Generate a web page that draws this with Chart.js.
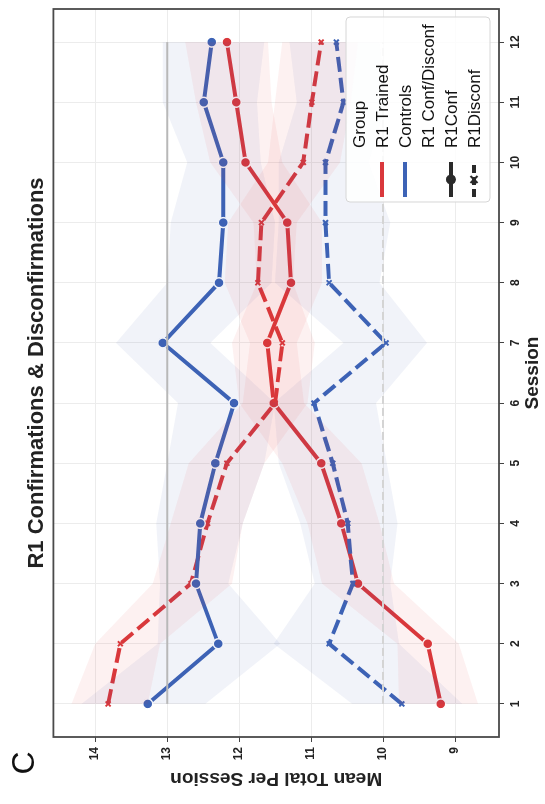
<!DOCTYPE html>
<html>
<head>
<meta charset="utf-8">
<script src="https://cdn.jsdelivr.net/npm/chart.js@4.4.0/dist/chart.umd.min.js"></script>
<style>
  html, body { margin: 0; padding: 0; background: #fff; overflow: hidden; }
  /* the figure is drawn landscape and turned a quarter turn, like the original */
  #wrap { position: absolute; left: 0; top: 0; width: 804px; height: 545px;
          transform-origin: 0 0; transform: translate(0, 804px) rotate(-90deg); }
</style>
</head>
<body>
<div id="wrap"><canvas id="myChart" width="804" height="545"></canvas></div>
<script>
const sessions = [1, 2, 3, 4, 5, 6, 7, 8, 9, 10, 11, 12];
const valueTicks = [9, 10, 11, 12, 13, 14];

const trainedConf   = [9.20, 9.38, 10.35, 10.58, 10.86, 11.52, 11.61, 11.28, 11.33, 11.91, 12.04, 12.17];
const trainedConfLo = [8.68, 8.95, 9.85, 10.05, 10.30, 11.10, 11.20, 10.85, 10.85, 11.40, 11.55, 11.60];
const trainedConfHi = [9.78, 9.80, 10.85, 11.05, 11.40, 12.00, 12.10, 11.75, 11.80, 12.40, 12.60, 12.75];

const trainedDisconf   = [13.82, 13.65, 12.67, 12.44, 12.17, 11.50, 11.40, 11.74, 11.69, 11.11, 10.99, 10.86];
const trainedDisconfLo = [13.27, 13.10, 12.10, 11.95, 11.65, 11.05, 10.95, 11.25, 11.20, 10.60, 10.45, 10.35];
const trainedDisconfHi = [14.33, 14.00, 13.20, 12.95, 12.70, 11.95, 11.85, 12.20, 12.15, 11.60, 11.50, 11.40];

const controlsConf   = [13.27, 12.29, 12.60, 12.54, 12.33, 12.07, 13.06, 12.28, 12.22, 12.22, 12.49, 12.38];
const controlsConfLo = [12.47, 11.43, 12.15, 11.95, 11.65, 11.50, 12.40, 11.55, 11.50, 11.70, 11.75, 11.65];
const controlsConfHi = [14.19, 13.13, 13.10, 13.15, 13.00, 12.85, 13.71, 13.00, 12.95, 12.72, 13.06, 13.06];

const controlsDisconf   = [9.74, 10.75, 10.42, 10.49, 10.70, 10.96, 9.96, 10.75, 10.80, 10.80, 10.55, 10.65];
const controlsDisconfLo = [8.90, 9.78, 9.90, 9.80, 9.95, 10.10, 9.39, 10.05, 9.90, 10.20, 9.95, 10.05];
const controlsDisconfHi = [10.43, 11.52, 10.95, 11.15, 11.45, 11.52, 10.55, 11.50, 11.45, 11.45, 11.20, 11.30];

const refHigh = 13;
const refLow = 10;

const RED = "#d9383c";
const BLUE = "#3d63b6";
const RED_BAND = "rgba(220, 60, 60, 0.07)";
const BLUE_BAND = "rgba(70, 90, 170, 0.075)";
const FONT = "'Liberation Sans', Arial, sans-serif";

const pts = (arr) => sessions.map((s, i) => ({ x: s, y: arr[i] }));

const band = (hi, lo, color) => [
  { data: pts(hi), fill: "+1", backgroundColor: color, borderWidth: 0, pointRadius: 0 },
  { data: pts(lo), fill: false, borderWidth: 0, pointRadius: 0 },
];

const meanLine = (arr, color, dashed) => ({
  data: pts(arr),
  borderColor: color,
  borderWidth: 4,
  borderDash: dashed ? [15, 6] : [],
  fill: false,
  pointStyle: dashed ? "crossRot" : "circle",
  pointRadius: dashed ? 3.5 : 5,
  pointBackgroundColor: color,
  pointBorderColor: dashed ? color : "#fff",
  pointBorderWidth: dashed ? 2 : 1.5,
});

const refLine = (v, color, dash) => ({
  data: [{ x: sessions[0], y: v }, { x: sessions[sessions.length - 1], y: v }],
  borderColor: color,
  borderWidth: 2,
  borderDash: dash,
  pointRadius: 0,
  fill: false,
});

// frame, panel letter and the seaborn-style legend
const extras = {
  id: "extras",
  afterDraw(chart) {
    const { ctx, chartArea: a } = chart;
    ctx.save();
    ctx.strokeStyle = "#4a4a4a";
    ctx.lineWidth = 1.8;
    ctx.strokeRect(a.left, a.top, a.right - a.left, a.bottom - a.top);

    ctx.fillStyle = "#111";
    ctx.font = "32px " + FONT;
    ctx.textAlign = "center";
    ctx.textBaseline = "middle";
    ctx.fillText("C", 41, 25);

    const w = 185, h = 144;
    const bx = a.right - 8 - w, by = a.bottom - 9 - h;
    ctx.fillStyle = "rgba(255,255,255,0.85)";
    ctx.strokeStyle = "#d6d6d6";
    ctx.lineWidth = 1;
    ctx.beginPath();
    ctx.roundRect(bx, by, w, h, 4);
    ctx.fill();
    ctx.stroke();

    const rows = [
      { text: "Group" },
      { text: "R1 Trained", color: RED },
      { text: "Controls", color: BLUE },
      { text: "R1 Conf/Disconf" },
      { text: "R1Conf", color: "#2a2a2a", marker: "circle" },
      { text: "R1Disconf", color: "#2a2a2a", marker: "x" },
    ];
    ctx.font = "17px " + FONT;
    ctx.textAlign = "left";
    rows.forEach((r, i) => {
      const y = by + 13 + i * 23;
      const x0 = bx + 5, x1 = bx + 40;
      if (r.color) {
        ctx.strokeStyle = r.color;
        ctx.lineWidth = 4;
        ctx.setLineDash(r.marker === "x" ? [8, 4] : []);
        ctx.beginPath();
        ctx.moveTo(x0, y);
        ctx.lineTo(x1, y);
        ctx.stroke();
        ctx.setLineDash([]);
        const cx = (x0 + x1) / 2;
        if (r.marker === "circle") {
          ctx.fillStyle = r.color;
          ctx.beginPath();
          ctx.arc(cx, y, 5, 0, Math.PI * 2);
          ctx.fill();
        } else if (r.marker === "x") {
          ctx.lineWidth = 2;
          ctx.beginPath();
          ctx.moveTo(cx - 3.5, y - 3.5); ctx.lineTo(cx + 3.5, y + 3.5);
          ctx.moveTo(cx - 3.5, y + 3.5); ctx.lineTo(cx + 3.5, y - 3.5);
          ctx.stroke();
        }
      }
      ctx.fillStyle = "#111";
      ctx.fillText(r.text, bx + 54, y + 1);
    });
    ctx.restore();
  },
};

document.addEventListener("DOMContentLoaded", () => {
  const ctx = document.getElementById("myChart").getContext("2d");

  new Chart(ctx, {
    type: "line",
    data: {
      datasets: [
        refLine(refHigh, "#b8b8b8", []),
        refLine(refLow, "#d4d4d4", [8, 4]),
        ...band(trainedConfHi, trainedConfLo, RED_BAND),
        ...band(trainedDisconfHi, trainedDisconfLo, RED_BAND),
        ...band(controlsConfHi, controlsConfLo, BLUE_BAND),
        ...band(controlsDisconfHi, controlsDisconfLo, BLUE_BAND),
        meanLine(controlsDisconf, BLUE, true),
        meanLine(controlsConf, BLUE, false),
        meanLine(trainedDisconf, RED, true),
        meanLine(trainedConf, RED, false),
      ],
    },
    options: {
      responsive: false,
      animation: false,
      events: [],
      layout: { padding: { top: 0, right: 9, bottom: 0, left: 0 } },
      elements: { line: { tension: 0 } },
      plugins: {
        legend: { display: false },
        tooltip: { enabled: false },
        title: {
          display: true,
          text: "R1 Confirmations & Disconfirmations",
          fullSize: false,
          color: "#222",
          font: { family: FONT, size: 22, weight: "bold" },
          padding: { top: 24, bottom: 3 },
        },
      },
      scales: {
        x: {
          type: "linear",
          min: 0.45,
          max: 12.55,
          afterFit: (s) => { s.height = 46; },
          afterBuildTicks: (s) => { s.ticks = sessions.map((v) => ({ value: v })); },
          grid: { color: "#ececec", tickColor: "#444", tickLength: 5 },
          border: { display: false },
          ticks: { color: "#222", padding: 4, maxRotation: 0, font: { family: FONT, size: 12, weight: "bold" } },
          title: {
            display: true,
            text: "Session",
            color: "#222",
            padding: { top: 0, bottom: 1 },
            font: { family: FONT, size: 19, weight: "bold" },
          },
        },
        y: {
          min: 8.39,
          max: 14.58,
          afterFit: (s) => { s.width = 67; },
          afterBuildTicks: (s) => { s.ticks = valueTicks.map((v) => ({ value: v })); },
          grid: { color: "#ececec", tickColor: "#444", tickLength: 5 },
          border: { display: false },
          ticks: { color: "#222", padding: 5, font: { family: FONT, size: 12, weight: "bold" } },
          title: {
            display: true,
            text: "Mean Total Per Session",
            color: "#222",
            padding: { top: 14, bottom: 0 },
            font: { family: FONT, size: 19, weight: "bold" },
          },
        },
      },
    },
    plugins: [extras],
  });
});
</script>
</body>
</html>
